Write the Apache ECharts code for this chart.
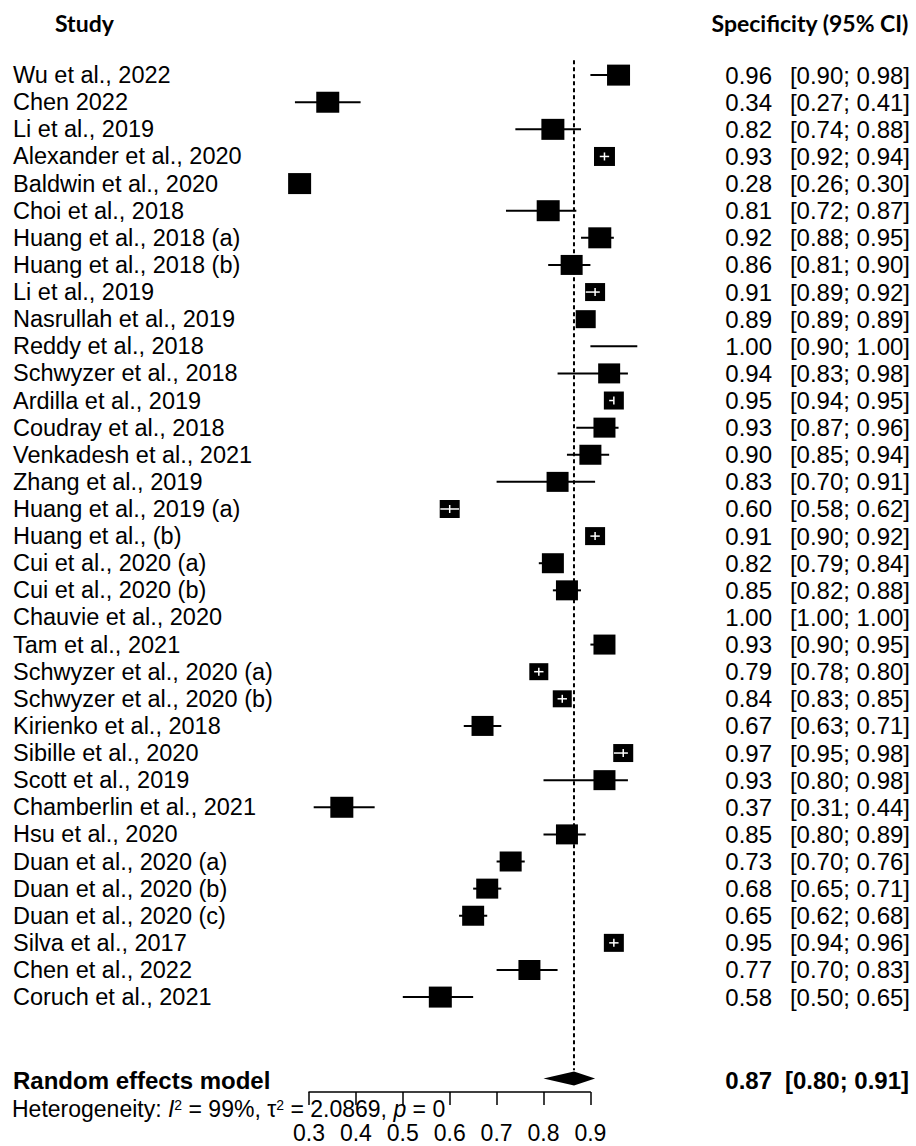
<!DOCTYPE html>
<html>
<head>
<meta charset="utf-8">
<script src="https://cdn.jsdelivr.net/npm/echarts@6/dist/echarts.min.js"></script>
<style>
html, body { margin: 0; padding: 0; background: #fff; }
#chart { width: 916px; height: 1146px; }
</style>
</head>
<body>
<div id="chart"></div>
<script>
// studies, top to bottom
var studies = ['Wu et al., 2022', 'Chen 2022', 'Li et al., 2019', 'Alexander et al., 2020', 'Baldwin et al., 2020',
	'Choi et al., 2018', 'Huang et al., 2018 (a)', 'Huang et al., 2018 (b)', 'Li et al., 2019', 'Nasrullah et al., 2019',
	'Reddy et al., 2018', 'Schwyzer et al., 2018', 'Ardilla et al., 2019', 'Coudray et al., 2018', 'Venkadesh et al., 2021',
	'Zhang et al., 2019', 'Huang et al., 2019 (a)', 'Huang et al., (b)', 'Cui et al., 2020 (a)', 'Cui et al., 2020 (b)',
	'Chauvie et al., 2020', 'Tam et al., 2021', 'Schwyzer et al., 2020 (a)', 'Schwyzer et al., 2020 (b)', 'Kirienko et al., 2018',
	'Sibille et al., 2020', 'Scott et al., 2019', 'Chamberlin et al., 2021', 'Hsu et al., 2020', 'Duan et al., 2020 (a)',
	'Duan et al., 2020 (b)', 'Duan et al., 2020 (c)', 'Silva et al., 2017', 'Chen et al., 2022', 'Coruch et al., 2021'];
var est   = [0.96, 0.34, 0.82, 0.93, 0.28, 0.81, 0.92, 0.86, 0.91, 0.89, 1.00, 0.94, 0.95, 0.93, 0.90, 0.83, 0.60, 0.91,
	0.82, 0.85, 1.00, 0.93, 0.79, 0.84, 0.67, 0.97, 0.93, 0.37, 0.85, 0.73, 0.68, 0.65, 0.95, 0.77, 0.58];
var lower = [0.90, 0.27, 0.74, 0.92, 0.26, 0.72, 0.88, 0.81, 0.89, 0.89, 0.90, 0.83, 0.94, 0.87, 0.85, 0.70, 0.58, 0.90,
	0.79, 0.82, 1.00, 0.90, 0.78, 0.83, 0.63, 0.95, 0.80, 0.31, 0.80, 0.70, 0.65, 0.62, 0.94, 0.70, 0.50];
var upper = [0.98, 0.41, 0.88, 0.94, 0.30, 0.87, 0.95, 0.90, 0.92, 0.89, 1.00, 0.98, 0.95, 0.96, 0.94, 0.91, 0.62, 0.92,
	0.84, 0.88, 1.00, 0.95, 0.80, 0.85, 0.71, 0.98, 0.98, 0.44, 0.89, 0.76, 0.71, 0.68, 0.96, 0.83, 0.65];
// box width in px (weight)
var boxSize = [23, 23, 23, 21, 23, 23, 23, 22, 20, 20, 0, 22, 20, 22, 22, 22, 20, 20,
	22, 22, 0, 22, 19, 19, 22, 20, 22, 23, 22, 22, 22, 22, 20, 22, 23];
// pooled estimate (random effects)
var pooled = [0.865, 0.80, 0.91];
var pooledText = ['0.87', '[0.80; 0.91]'];

var fontReg = '"Liberation Sans", Arial, sans-serif';
var pooledRow = 37;

function fmt(v) {
	return v.toFixed(2);
}

// one study row: CI line, box, texts
function renderStudy(params, api) {
	var i = params.dataIndex;
	var c = api.coord([est[i], i]);
	var pl = api.coord([lower[i], i]);
	var ph = api.coord([upper[i], i]);
	var w = boxSize[i], h = Math.round(w * 0.92);
	var kids = [];
	if (ph[0] > pl[0]) {
		kids.push({type: 'line', shape: {x1: pl[0], y1: c[1], x2: ph[0], y2: c[1]}, style: {stroke: '#000', lineWidth: 2}});
	}
	if (w > 0) {
		kids.push({type: 'rect', shape: {x: c[0] - w / 2, y: c[1] - h / 2, width: w, height: h}, style: {fill: '#000'}});
		var span = ph[0] - pl[0];
		if (span > 0 && span < w && lower[i] >= 0.3) {
			kids.push({type: 'line', shape: {x1: pl[0], y1: c[1], x2: ph[0], y2: c[1]}, style: {stroke: '#fff', lineWidth: 1.5}});
			kids.push({type: 'line', shape: {x1: c[0], y1: c[1] - 4, x2: c[0], y2: c[1] + 4}, style: {stroke: '#fff', lineWidth: 1.5}});
		}
	}
	kids.push({type: 'text', x: 13, y: c[1], style: {text: studies[i], fill: '#000', font: '23.5px ' + fontReg, align: 'left', verticalAlign: 'middle'}});
	kids.push({type: 'text', x: 772, y: c[1], style: {text: fmt(est[i]), fill: '#000', font: '24px ' + fontReg, align: 'right', verticalAlign: 'middle'}});
	kids.push({type: 'text', x: 910, y: c[1], style: {text: '[' + fmt(lower[i]) + '; ' + fmt(upper[i]) + ']', fill: '#000', font: '24px ' + fontReg, align: 'right', verticalAlign: 'middle'}});
	return {type: 'group', children: kids};
}

// diamond for the pooled estimate
function renderPooled(params, api) {
	var c = api.coord([pooled[0], pooledRow]);
	var pl = api.coord([pooled[1], pooledRow]);
	var ph = api.coord([pooled[2], pooledRow]);
	var hh = 7;
	return {type: 'group', children: [
		{type: 'polygon', shape: {points: [[pl[0], c[1]], [c[0], c[1] - hh], [ph[0], c[1]], [c[0], c[1] + hh]]}, style: {fill: '#000'}},
		{type: 'text', x: 13, y: c[1] + 2, style: {text: 'Random effects model', fill: '#000', font: 'bold 24px ' + fontReg, align: 'left', verticalAlign: 'middle'}},
		{type: 'text', x: 772, y: c[1] + 2, style: {text: pooledText[0], fill: '#000', font: 'bold 24px ' + fontReg, align: 'right', verticalAlign: 'middle'}},
		{type: 'text', x: 909, y: c[1] + 2, style: {text: pooledText[1], fill: '#000', font: 'bold 24px ' + fontReg, align: 'right', verticalAlign: 'middle'}}
	]};
}

var studyData = [];
for (var i = 0; i < studies.length; i++) {
	studyData.push([est[i], i, lower[i], upper[i]]);
}

var option = {
	animation: false,
	grid: {left: 309, right: 325.6, top: 48, bottom: 54},
	xAxis: {
		type: 'value', min: 0.3, max: 0.9, interval: 0.1,
		axisLine: {onZero: false, lineStyle: {color: '#000', width: 1.5}},
		axisTick: {show: true, length: 13, lineStyle: {color: '#000', width: 1.5}},
		axisLabel: {margin: 29, color: '#000', fontSize: 23, fontFamily: fontReg,
			formatter: function(v) { return v.toFixed(1); }},
		splitLine: {show: false}
	},
	yAxis: {type: 'value', inverse: true, min: -1, max: 37.5, show: false},
	graphic: [
		{type: 'text', left: 55, top: 11, style: {text: 'Study', fill: '#000', font: 'bold 23px Lato, sans-serif'}},
		{type: 'text', right: 7, top: 11, style: {text: 'Specificity (95% CI)', fill: '#000', font: 'bold 23px Lato, sans-serif'}},
		{type: 'text', left: 12, top: 1097, z: 10, style: {
			text: '{n|Heterogeneity: }{i|I}{s|2}{n| = 99%, τ}{s|2}{n| = 2.0869, }{i|p}{n| = 0}',
			fill: '#000',
			rich: {
				n: {fontSize: 23, fontFamily: fontReg, lineHeight: 22},
				i: {fontSize: 23, fontFamily: fontReg, fontStyle: 'italic', lineHeight: 22},
				s: {fontSize: 14, fontFamily: fontReg, verticalAlign: 'top', lineHeight: 22}
			}
		}}
	],
	series: [
		{
			// vertical dashed line at the pooled estimate
			type: 'line', data: [[pooled[0], -0.55], [pooled[0], pooledRow - 0.3]],
			symbol: 'none', lineStyle: {color: '#000', width: 2, type: [4, 3]}, z: 1
		},
		{type: 'custom', renderItem: renderStudy, data: studyData, z: 2},
		{type: 'custom', renderItem: renderPooled, data: [[pooled[0], pooledRow]], z: 2}
	]
};

var myChart = echarts.init(document.getElementById('chart'), null, {renderer: 'svg'});
myChart.setOption(option);
</script>
</body>
</html>
